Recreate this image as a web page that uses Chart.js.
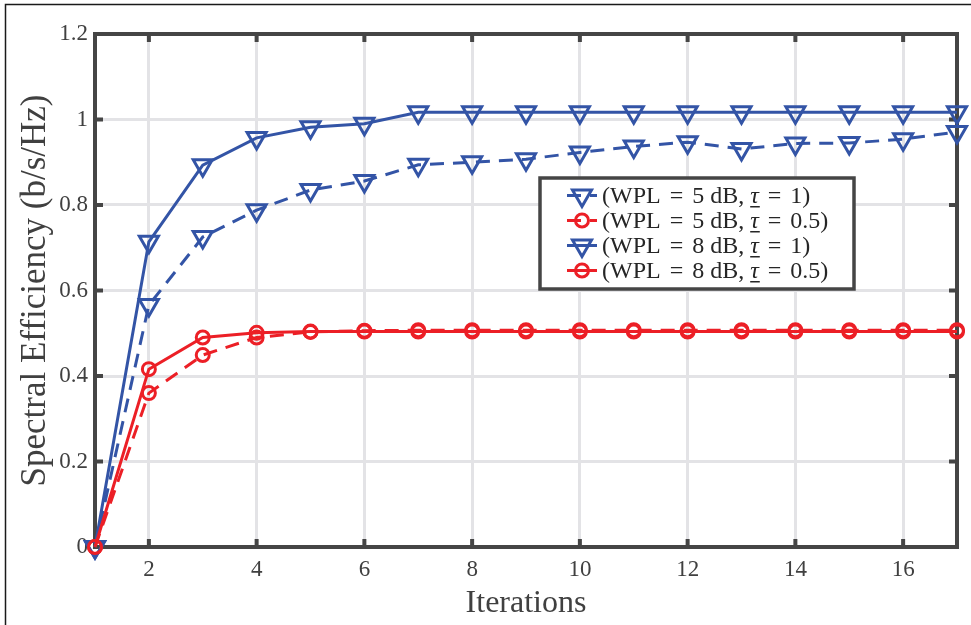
<!DOCTYPE html>
<html>
<head>
<meta charset="utf-8">
<script src="https://cdn.jsdelivr.net/npm/chart.js@4.4.0/dist/chart.umd.min.js"></script>
<style>
  html, body { margin: 0; padding: 0; background: #fff; }
  #wrap { position: relative; width: 971px; height: 625px; }
</style>
</head>
<body>
<div id="wrap"><canvas id="chart" width="971" height="625"></canvas></div>
<script>
// data
const iterations = [1, 2, 3, 4, 5, 6, 7, 8, 9, 10, 11, 12, 13, 14, 15, 16, 17];
const wpl5Tau1  = [0, 0.566, 0.725, 0.788, 0.835, 0.856, 0.894, 0.900, 0.907, 0.923, 0.937, 0.947, 0.931, 0.944, 0.945, 0.954, 0.971];
const wpl5Tau05 = [0, 0.360, 0.449, 0.490, 0.503, 0.506, 0.507, 0.507, 0.507, 0.507, 0.507, 0.507, 0.507, 0.507, 0.507, 0.507, 0.507];
const wpl8Tau1  = [0, 0.714, 0.893, 0.957, 0.982, 0.990, 1.017, 1.017, 1.017, 1.017, 1.017, 1.017, 1.017, 1.017, 1.017, 1.017, 1.017];
const wpl8Tau05 = [0, 0.416, 0.490, 0.501, 0.504, 0.504, 0.504, 0.504, 0.504, 0.504, 0.504, 0.504, 0.504, 0.504, 0.504, 0.504, 0.504];
const seriesLabels = ['(WPL = 5 dB, τ = 1)', '(WPL = 5 dB, τ = 0.5)', '(WPL = 8 dB, τ = 1)', '(WPL = 8 dB, τ = 0.5)'];
const xTicks = [2, 4, 6, 8, 10, 12, 14, 16];
const yTicks = [0, 0.2, 0.4, 0.6, 0.8, 1, 1.2];

const BLUE = '#3354a6';
const RED = '#ec1f26';
const AXIS = '#454545';
const TEXT = '#404040';
const DASH = [14, 9];

const toPoints = ys => iterations.map((x, i) => ({ x, y: ys[i] }));

function makeSet(label, ys, color, dashed, marker, order) {
    return {
        label: label,
        data: toPoints(ys),
        borderColor: color,
        borderWidth: 3,
        borderDash: dashed ? DASH : [],
        pointStyle: marker,
        rotation: marker === 'triangle' ? 180 : 0,
        pointRadius: marker === 'triangle' ? 11 : 6.5,
        pointBorderWidth: 3,
        pointBorderColor: color,
        pointBackgroundColor: 'rgba(0,0,0,0)',
        tension: 0,
        fill: false,
        clip: false,
        order: order
    };
}

// white page, thin outer frame (left and top)
const framePlugin = {
    id: 'frame',
    beforeDraw(chart) {
        const ctx = chart.ctx;
        ctx.save();
        ctx.fillStyle = '#fff';
        ctx.fillRect(0, 0, chart.width, chart.height);
        ctx.strokeStyle = '#1a1a1a';
        ctx.lineWidth = 1.5;
        ctx.beginPath();
        ctx.moveTo(5.5, chart.height);
        ctx.lineTo(5.5, 4.5);
        ctx.lineTo(chart.width, 4.5);
        ctx.stroke();
        ctx.restore();
    }
};

// axes box with inward ticks, like matlab
const boxPlugin = {
    id: 'axesBox',
    beforeDatasetsDraw(chart) {
        const { ctx, chartArea: a, scales } = chart;
        const tl = 8;
        ctx.save();
        ctx.strokeStyle = AXIS;
        ctx.lineWidth = 4;
        ctx.beginPath();
        xTicks.forEach(v => {
            const px = scales.x.getPixelForValue(v);
            ctx.moveTo(px, a.bottom); ctx.lineTo(px, a.bottom - tl);
            ctx.moveTo(px, a.top); ctx.lineTo(px, a.top + tl);
        });
        yTicks.forEach(v => {
            const py = scales.y.getPixelForValue(v);
            ctx.moveTo(a.left, py); ctx.lineTo(a.left + tl, py);
            ctx.moveTo(a.right, py); ctx.lineTo(a.right - tl, py);
        });
        ctx.stroke();
        ctx.strokeRect(a.left, a.top, a.right - a.left, a.bottom - a.top);
        ctx.restore();
    }
};

function drawMarker(ctx, style, x, y) {
    ctx.beginPath();
    if (style === 'triangle') {
        const r = 11;
        for (let k = 0; k < 3; k++) {
            const ang = Math.PI + k * 2 * Math.PI / 3;
            const px = x + Math.sin(ang) * r, py = y - Math.cos(ang) * r;
            if (k === 0) ctx.moveTo(px, py); else ctx.lineTo(px, py);
        }
        ctx.closePath();
    } else {
        ctx.arc(x, y, 6.5, 0, Math.PI * 2);
    }
    ctx.stroke();
}

// draws a text run, giving "=" a bit more room like latex does
function drawRun(ctx, str, x, y) {
    const bits = str.split('=');
    bits.forEach((b, i) => {
        if (i > 0) {
            x += 3;
            ctx.fillText('=', x, y);
            x += ctx.measureText('=').width + 3;
        }
        ctx.fillText(b, x, y);
        x += ctx.measureText(b).width;
    });
    return x;
}

// legend box inside the plot
const legendPlugin = {
    id: 'boxLegend',
    afterDraw(chart) {
        const ctx = chart.ctx;
        const bx = 540, by = 178, bw = 314, bh = 111;
        ctx.save();
        ctx.fillStyle = '#fff';
        ctx.fillRect(bx, by, bw, bh);
        ctx.strokeStyle = AXIS;
        ctx.lineWidth = 3.5;
        ctx.strokeRect(bx, by, bw, bh);

        const rowsY = [195.5, 220.5, 245.5, 270.5];
        chart.data.datasets.forEach((ds, i) => {
            const y = rowsY[i];
            ctx.strokeStyle = ds.borderColor;
            ctx.lineWidth = 3;
            ctx.setLineDash(ds.borderDash);
            ctx.beginPath();
            ctx.moveTo(567, y); ctx.lineTo(597, y);
            ctx.stroke();
            ctx.setLineDash([]);
            drawMarker(ctx, ds.pointStyle, 582, y);

            // text, with underlined tau
            const parts = ds.label.split('τ');
            const font = '24px "Liberation Serif"';
            const italic = 'italic 24px "Liberation Serif"';
            ctx.fillStyle = '#262626';
            ctx.textBaseline = 'alphabetic';
            const base = y + 7.5;
            let tx = 602;
            ctx.font = font;
            tx = drawRun(ctx, parts[0], tx, base);
            ctx.font = italic;
            ctx.fillText('τ', tx, base);
            const tw = ctx.measureText('τ').width;
            ctx.fillRect(tx, base + 3, tw + 1, 1.5);
            tx += tw;
            ctx.font = font;
            drawRun(ctx, parts[1], tx, base);
        });
        ctx.restore();
    }
};

const ctx = document.getElementById('chart').getContext('2d');
const myChart = new Chart(ctx, {
    type: 'line',
    data: {
        datasets: [
            makeSet(seriesLabels[0], wpl5Tau1, BLUE, true, 'triangle', 4),
            makeSet(seriesLabels[1], wpl5Tau05, RED, true, 'circle', 3),
            makeSet(seriesLabels[2], wpl8Tau1, BLUE, false, 'triangle', 2),
            makeSet(seriesLabels[3], wpl8Tau05, RED, false, 'circle', 1)
        ]
    },
    options: {
        responsive: false,
        animation: false,
        layout: { padding: { left: 0, top: 34, right: 13, bottom: 0 } },
        plugins: {
            legend: { display: false },
            tooltip: { enabled: false }
        },
        scales: {
            x: {
                type: 'linear',
                min: 1,
                max: 17,
                afterBuildTicks: axis => { axis.ticks = xTicks.map(v => ({ value: v })); },
                afterFit: scale => { scale.height = 78; },
                border: { display: false },
                grid: { color: '#e3e3e6', lineWidth: 3, drawTicks: false },
                ticks: {
                    padding: 9,
                    color: TEXT,
                    font: { family: '"Liberation Serif"', size: 23 },
                    maxRotation: 0
                },
                title: {
                    display: true,
                    text: 'Iterations',
                    color: TEXT,
                    font: { family: '"Liberation Serif"', size: 32 },
                    padding: { top: 0, bottom: 2 }
                }
            },
            y: {
                type: 'linear',
                min: 0,
                max: 1.2,
                afterBuildTicks: axis => { axis.ticks = yTicks.map(v => ({ value: v })); },
                afterFit: scale => { scale.width = 95; },
                border: { display: false },
                grid: { color: '#e3e3e6', lineWidth: 3, drawTicks: false },
                ticks: {
                    padding: 7,
                    color: TEXT,
                    font: { family: '"Liberation Serif"', size: 23 },
                    callback: v => String(Math.round(v * 10) / 10)
                },
                title: {
                    display: true,
                    text: 'Spectral Efficiency (b/s/Hz)',
                    color: TEXT,
                    font: { family: '"Liberation Serif"', size: 35 },
                    padding: { top: 15, bottom: 0 }
                }
            }
        }
    },
    plugins: [framePlugin, boxPlugin, legendPlugin]
});
</script>
</body>
</html>
